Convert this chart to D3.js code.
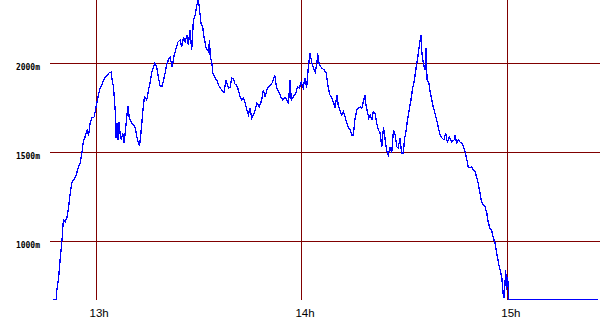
<!DOCTYPE html>
<html><head><meta charset="utf-8">
<script src="https://cdn.jsdelivr.net/npm/d3@7"></script>
<style>body{margin:0;background:#fff}svg{display:block}</style>
</head><body>
<svg id="c" width="600" height="330"></svg>
<script>
// minutes after 12:00
const times = [47.6,48.5,48.7,49.2,49.7,50.2,50.6,51.1,51.6,52.1,52.6,53.1,54.0,54.5,55.0,55.5,56.0,56.4,56.9,57.5,57.9,58.1,58.4,58.9,59.6,60.1,60.8,61.3,61.8,62.6,63.3,63.9,64.5,64.8,65.2,65.7,65.9,66.2,66.5,66.8,67.1,67.5,67.9,68.3,68.9,69.4,69.8,70.5,71.0,71.6,72.0,72.5,72.8,73.2,73.8,74.2,74.9,75.4,75.9,76.4,76.8,77.3,77.8,78.3,78.8,79.4,79.8,80.3,80.7,81.2,81.7,82.3,82.9,83.5,84.0,84.6,85.1,85.6,86.1,86.6,87.0,87.5,88.0,88.5,89.0,89.5,89.9,90.2,90.7,91.2,91.6,92.2,92.9,93.2,93.4,93.9,94.1,94.8,95.3,95.8,96.3,96.8,97.4,98.0,98.7,99.2,99.7,100.2,100.6,101.1,101.6,102.1,102.6,103.1,103.6,104.1,104.5,105.0,105.5,106.0,106.5,107.0,107.7,108.4,108.9,109.4,109.9,110.3,111.0,111.6,112.2,112.6,113.0,113.6,114.0,114.5,115.2,115.7,116.2,116.7,117.0,117.6,118.4,118.8,119.4,119.9,120.5,121.0,121.5,122.0,122.5,123.0,123.5,124.0,124.5,124.7,125.2,125.9,126.6,127.2,127.5,127.8,128.3,128.8,129.3,129.8,130.3,130.7,131.2,131.7,132.2,132.7,133.2,133.7,134.2,134.7,135.1,135.6,136.1,136.6,137.1,137.6,138.0,138.5,138.8,139.2,139.6,140.0,140.5,140.9,141.4,141.9,142.4,142.9,143.4,143.9,144.4,144.8,145.3,145.8,146.3,146.8,147.3,147.8,148.2,148.7,149.2,149.7,150.0,150.5,150.9,151.4,151.9,152.4,152.9,153.4,153.9,154.3,154.8,155.0,155.5,156.0,156.3,156.6,157.1,157.5,158.0,158.4,158.9,159.4,159.9,160.4,160.9,161.5,162.0,162.5,163.1,163.8,164.5,164.8,165.2,165.7,166.2,166.7,167.2,167.7,168.2,168.6,169.1,169.6,170.1,170.6,171.1,171.5,172.0,172.5,173.0,173.5,174.0,174.4,174.9,175.4,175.9,176.4,176.9,177.4,177.9,178.4,178.8,179.1,179.5,179.8,180.1,180.4,206.4];
// altitude in metres
const altitudes = [671,671,727,794,906,1008,1120,1109,1131,1187,1272,1333,1356,1384,1418,1440,1496,1558,1586,1625,1595,1615,1665,1693,1699,1755,1822,1862,1878,1918,1929,1946,1951,1906,1867,1738,1581,1665,1570,1670,1609,1570,1609,1553,1665,1761,1693,1665,1654,1637,1586,1553,1536,1609,1738,1811,1794,1850,1895,1951,1974,2002,1980,1918,1873,1873,1906,1951,1991,2019,2036,1980,2047,2086,2120,2131,2092,2148,2120,2159,2103,2187,2075,2244,2272,2328,2356,2317,2227,2204,2148,2086,2065,2131,2036,2002,1946,1918,1906,1878,1862,1850,1834,1906,1862,1867,1918,1912,1884,1878,1850,1811,1794,1805,1777,1738,1710,1749,1693,1710,1738,1777,1755,1794,1850,1811,1850,1867,1878,1895,1935,1878,1850,1834,1811,1794,1811,1794,1777,1906,1794,1811,1834,1867,1862,1895,1862,1918,1862,1980,2058,2002,1974,1951,2002,2058,1991,1974,1963,1946,1906,1862,1822,1805,1783,1749,1822,1766,1738,1710,1727,1699,1665,1637,1626,1598,1598,1688,1738,1749,1755,1749,1783,1822,1766,1727,1693,1710,1682,1727,1721,1665,1626,1609,1530,1643,1570,1513,1485,1530,1496,1626,1598,1530,1524,1581,1496,1496,1570,1626,1682,1738,1794,1862,1906,1974,2036,2092,2159,2075,2002,1963,2086,1906,1890,1839,1794,1755,1721,1682,1637,1598,1581,1570,1609,1558,1586,1558,1570,1598,1553,1570,1558,1553,1530,1502,1457,1418,1412,1418,1401,1390,1356,1328,1272,1221,1204,1193,1159,1109,1075,1064,1019,991,935,878,839,794,699,682,839,727,800,671,671];
const xTicks = [60,120,180];
const xTickLabels = ["13h","14h","15h"];
const yTicks = [1000,1500,2000];
const yTickLabels = ["1000m","1500m","2000m"];

const svg = d3.select("#c");
const L = 50, R = 600, T = 0, B = 300;
const x = d3.scaleLinear().domain([46.7, 207.0]).range([L, R]);
const y = d3.scaleLinear().domain([670, 2356]).range([B, T]);
const grid = "#800000";

const g = svg.append("g");
g.selectAll("line.h").data(yTicks).join("line")
  .attr("x1", L).attr("x2", R)
  .attr("y1", d => Math.round(y(d)) + 0.5).attr("y2", d => Math.round(y(d)) + 0.5)
  .attr("stroke", grid).attr("stroke-width", 1);
g.selectAll("line.v").data(xTicks).join("line")
  .attr("x1", d => Math.round(x(d)) + 0.5).attr("x2", d => Math.round(x(d)) + 0.5)
  .attr("y1", T).attr("y2", B)
  .attr("stroke", grid).attr("stroke-width", 1);

g.selectAll("text.y").data(yTicks).join("text")
  .attr("x", 40).attr("y", d => y(d) + 6.5)
  .attr("text-anchor", "end")
  .attr("font-family", "DejaVu Sans Mono, monospace")
  .attr("font-size", 8).attr("font-weight", "bold")
  .attr("fill", "#000")
  .text((d, i) => yTickLabels[i]);
g.selectAll("text.x").data(xTicks).join("text")
  .attr("x", d => x(d) + 3.5).attr("y", 317)
  .attr("text-anchor", "middle")
  .attr("font-family", "Liberation Sans, Arial, sans-serif")
  .attr("font-size", 11.5)
  .attr("fill", "#000")
  .text((d, i) => xTickLabels[i]);

const pts = times.map((t, i) => [t, altitudes[i]]);
const line = d3.line().x(d => x(d[0])).y(d => y(d[1]));
svg.append("path").datum(pts)
  .attr("d", line)
  .attr("fill", "none")
  .attr("stroke", "#0000ff")
  .attr("stroke-width", 1.3)
  .attr("shape-rendering", "crispEdges");
</script>
</body></html>
